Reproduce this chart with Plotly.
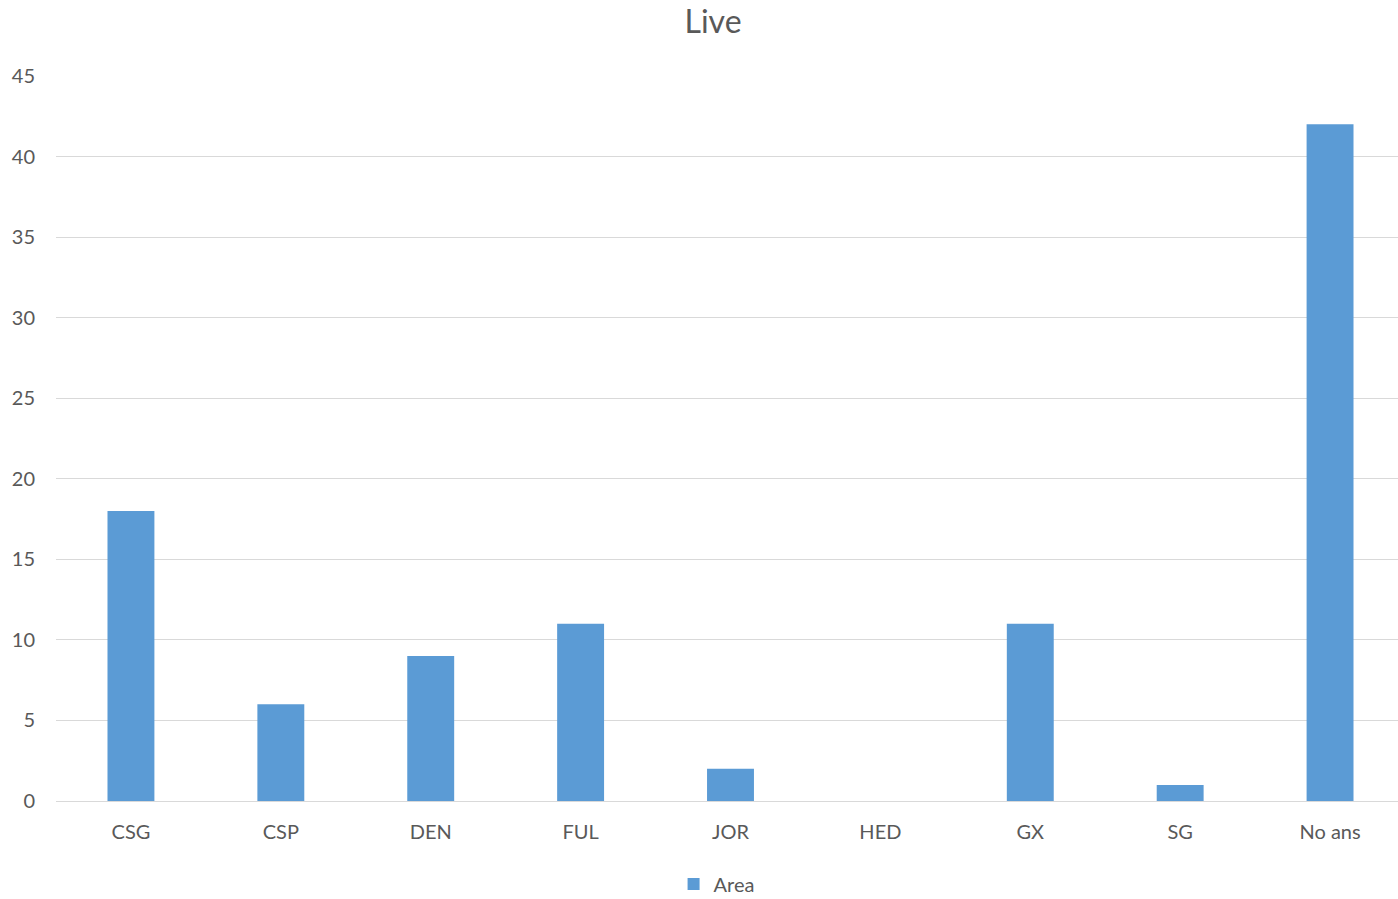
import plotly.graph_objects as go

categories = ["CSG", "CSP", "DEN", "FUL", "JOR", "HED", "GX", "SG", "No ans"]
values = [18, 6, 9, 11, 2, 0, 11, 1, 42]
y_ticks = [0, 5, 10, 15, 20, 25, 30, 35, 40, 45]

fig = go.Figure()
fig.add_trace(go.Bar(
    x=categories, y=values, name="Area",
    marker=dict(color="#5b9bd5", line=dict(width=0)),
    width=0.313,
))

FONT = "Lato"
W = 1405
H = 899
fig.update_layout(
    width=W, height=H,
    paper_bgcolor="white", plot_bgcolor="white",
    margin=dict(l=56, r=0, t=76, b=98, autoexpand=False),
    title=dict(text="Live", x=713 / W, xanchor="center", y=0.976, yanchor="middle",
               font=dict(family=FONT, size=32, color="#595959")),
    font=dict(family=FONT, size=20, color="#595959"),
    showlegend=True,
    legend=dict(orientation="h", x=688 / W, xanchor="center", xref="paper",
                yref="container", y=1 - 884 / H, yanchor="middle",
                font=dict(size=20, color="#595959"), itemwidth=30),
)
fig.update_yaxes(range=[0, 45], tickvals=y_ticks, showgrid=True, gridcolor="#d9d9d9",
                 gridwidth=1.3, zeroline=True, zerolinecolor="#d9d9d9", zerolinewidth=1.3,
                 showline=False, ticks="", ticklabelstandoff=20,
                 tickfont=dict(size=20, color="#595959"))
fig.update_xaxes(showgrid=False, showline=False, ticks="", ticklabelstandoff=17,
                 tickfont=dict(size=20, color="#595959"))

fig.write_html("out.html", config={"displayModeBar": False},
               post_script="document.body.style.margin='0';document.body.style.overflow='hidden';")
